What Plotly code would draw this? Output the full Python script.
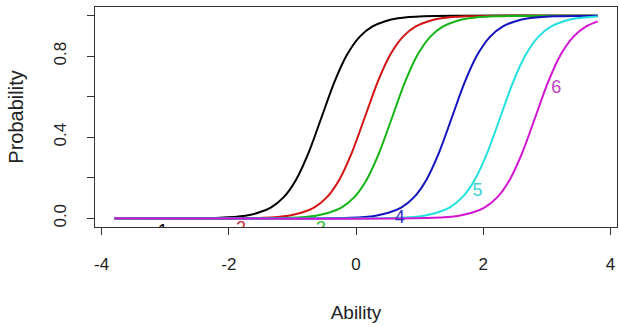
import plotly.graph_objects as go

# Read-off points for each category curve (Ability, Probability)
black_x = [-3.8, -2.14, -1.74, -1.54, -1.34, -1.14, -0.94, -0.74, -0.54, -0.34, -0.14, 0.06, 0.26, 0.46, 0.66, 1.06, 3.8]
black_y = [0.0, 0.003, 0.013, 0.027, 0.053, 0.103, 0.192, 0.328, 0.5, 0.672, 0.808, 0.897, 0.947, 0.973, 0.987, 0.997, 1.0]

red_x = [-3.8, -1.46, -1.06, -0.86, -0.66, -0.46, -0.26, -0.06, 0.14, 0.34, 0.54, 0.74, 0.94, 1.14, 1.34, 1.74, 3.8]
red_y = [0.0, 0.003, 0.013, 0.027, 0.053, 0.103, 0.192, 0.328, 0.5, 0.672, 0.808, 0.897, 0.947, 0.973, 0.987, 0.997, 1.0]

green_x = [-3.8, -1.03, -0.63, -0.43, -0.23, -0.03, 0.17, 0.37, 0.57, 0.77, 0.97, 1.17, 1.37, 1.57, 1.77, 2.17, 3.8]
green_y = [0.0, 0.003, 0.013, 0.027, 0.053, 0.103, 0.192, 0.328, 0.5, 0.672, 0.808, 0.897, 0.947, 0.973, 0.987, 0.997, 1.0]

blue_x = [-3.8, -0.09, 0.31, 0.51, 0.71, 0.91, 1.11, 1.31, 1.51, 1.71, 1.91, 2.11, 2.31, 2.51, 2.71, 3.11, 3.8]
blue_y = [0.0, 0.003, 0.013, 0.027, 0.053, 0.103, 0.192, 0.328, 0.5, 0.672, 0.808, 0.897, 0.947, 0.973, 0.987, 0.997, 1.0]

cyan_x = [-3.8, 0.67, 1.07, 1.27, 1.47, 1.67, 1.87, 2.07, 2.27, 2.47, 2.67, 2.87, 3.07, 3.27, 3.47, 3.8]
cyan_y = [0.0, 0.003, 0.013, 0.027, 0.053, 0.103, 0.192, 0.328, 0.5, 0.672, 0.808, 0.897, 0.947, 0.973, 0.987, 0.996]

magenta_x = [-3.8, 1.22, 1.62, 1.82, 2.02, 2.22, 2.42, 2.62, 2.82, 3.02, 3.22, 3.42, 3.62, 3.8]
magenta_y = [0.0, 0.003, 0.013, 0.027, 0.053, 0.103, 0.192, 0.328, 0.5, 0.672, 0.808, 0.897, 0.947, 0.972]

# Curve labels (text, x, y)
label_text = ["1", "2", "3", "4", "5", "6"]
label_x = [-3.04, -1.81, -0.55, 0.69, 1.91, 3.15]
label_y = [-0.072, -0.055, -0.055, 0.0, 0.134, 0.642]

y_tickvals = [0.0, 0.2, 0.4, 0.6, 0.8, 1.0]
y_ticktext = ["0.0", "", "0.4", "", "0.8", ""]
x_tickvals = [-4, -2, 0, 2, 4]
x_ticktext = ["-4", "-2", "0", "2", "4"]

line_colors = ["#000000", "#D41414", "#14B414", "#1414BE", "#22E0E0", "#D214D2"]
label_colors = ["#000000", "#C83030", "#30C030", "#3030C0", "#40D4D4", "#C040C0"]

series = [(black_x, black_y), (red_x, red_y), (green_x, green_y),
          (blue_x, blue_y), (cyan_x, cyan_y), (magenta_x, magenta_y)]

FONT = "Liberation Sans, Arial, sans-serif"

fig = go.Figure()
for (xs, ys), c in zip(series, line_colors):
    fig.add_trace(go.Scatter(x=xs, y=ys, mode="lines",
                             line=dict(color=c, width=2, shape="spline", smoothing=0.8),
                             showlegend=False, hoverinfo="skip"))

fig.add_trace(go.Scatter(x=label_x, y=label_y, mode="text", text=label_text,
                         textfont=dict(family=FONT, size=18, color=label_colors),
                         textposition="middle center", cliponaxis=True,
                         showlegend=False, hoverinfo="skip"))

font_color = "#222222"
fig.update_layout(
    width=619, height=327,
    margin=dict(l=95, r=2, t=7, b=100),
    paper_bgcolor="white", plot_bgcolor="white",
    font=dict(family=FONT, size=17, color=font_color),
    xaxis=dict(range=[-4.104, 4.104], tickvals=x_tickvals, ticktext=x_ticktext,
               automargin=False,
               showgrid=False, zeroline=False, showline=True, mirror=True,
               linecolor="#333333", linewidth=1.3, ticks="outside", ticklen=7,
               tickcolor="#333333", tickwidth=1.3, ticklabelstandoff=14,
               tickfont=dict(size=17),
               title=dict(text="Ability", standoff=33, font=dict(size=19))),
    yaxis=dict(range=[-0.043, 1.043], tickvals=y_tickvals, ticktext=y_ticktext,
               automargin=False,
               showgrid=False, zeroline=False, showline=True, mirror=True,
               linecolor="#333333", linewidth=1.3, ticks="outside", ticklen=7,
               tickcolor="#333333", tickwidth=1.3, tickangle=-90, ticklabelstandoff=14,
               tickfont=dict(size=17),
               title=dict(text="Probability", standoff=22, font=dict(size=20))),
)

fig.write_html("out.html", config={"displayModeBar": False},
               post_script="document.body.style.margin='0';document.body.style.overflow='hidden';")
